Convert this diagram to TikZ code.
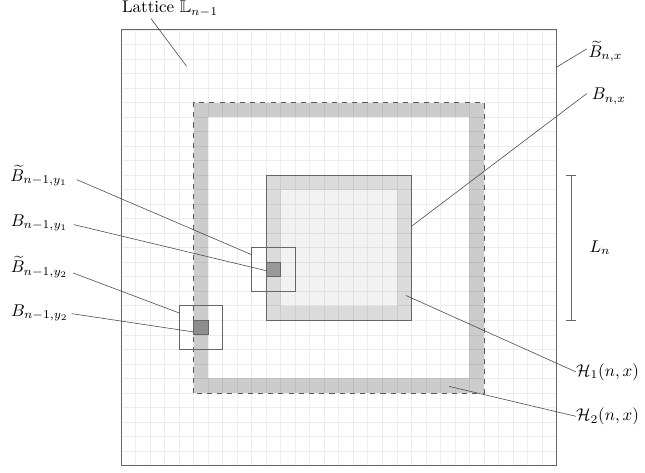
\documentclass[tikz,border=0pt]{standalone}
\usepackage{amsmath,amssymb}
\begin{document}
\begin{tikzpicture}[x=0.3cm,y=0.3cm,
  frame/.style={draw=black!60, line width=0.5pt},
  leader/.style={draw=black!70, line width=0.35pt},
  lbl/.style={inner sep=0pt, font=\normalsize}]
\useasboundingbox (-8.33,-0.45) rectangle (36.09,32.06);
% fills
\fill[black!20] (5,5) rectangle (25,25);
\fill[white] (6,6) rectangle (24,24);
\fill[black!14] (10,10) rectangle (20,20);
\fill[black!5] (11,11) rectangle (19,19);
% grid
\draw[black, opacity=0.07, line width=0.4pt, step=0.3cm] (0,0) grid (30,30);
% frames
\draw[frame] (0,0) rectangle (30,30);
\draw[draw=black!65, line width=0.5pt, dashed] (5,5) rectangle (25,25);
\draw[frame] (10,10) rectangle (20,20);
\draw[frame] (9,12) rectangle (12,15);
\draw[frame, fill=black, fill opacity=0.3] (10,13) rectangle (11,14);
\draw[frame] (4,8) rectangle (7,11);
\draw[frame, fill=black, fill opacity=0.3] (5,9) rectangle (6,10);
% L_n bracket
\coordinate (lnb) at (31,10);
\coordinate (lnt) at (31,20);
\draw[frame] (lnb) -- (lnt);
\draw[frame] ([xshift=-0.35*0.3cm]lnb) -- ([xshift=0.35*0.3cm]lnb);
\draw[frame] ([xshift=-0.35*0.3cm]lnt) -- ([xshift=0.35*0.3cm]lnt);
\node[lbl, anchor=west] (ln) at (32.25,15) {$L_n$};
% labels
\node[lbl, anchor=base west] (lat) at (0.05,31.2) {Lattice $\mathbb{L}_{n-1}$};
\node[lbl, anchor=base west] (btnx) at (32.18,28.11) {$\widetilde{B}_{n,x}$};
\node[lbl, anchor=base west] (bnx) at (32.41,25.2) {$B_{n,x}$};
\node[lbl, anchor=west] (h1) at (31.33,6.45) {$\mathcal{H}_1(n,x)$};
\node[lbl, anchor=west] (h2) at (31.33,3.39) {$\mathcal{H}_2(n,x)$};
\node[lbl, anchor=base east] (bt1) at (-3.65,19.57) {$\widetilde{B}_{n-1,y_1}$};
\node[lbl, anchor=base east] (b1) at (-3.63,16.47) {$B_{n-1,y_1}$};
\node[lbl, anchor=base east] (bt2) at (-3.63,13.26) {$\widetilde{B}_{n-1,y_2}$};
\node[lbl, anchor=base east] (b2) at (-3.6,10.28) {$B_{n-1,y_2}$};
% leader ends
\coordinate (lats) at (2.07,30.78);   \coordinate (late) at (4.52,27.49);
\coordinate (btnxs) at (32.07,28.69); \coordinate (btnxe) at (29.98,27.42);
\coordinate (bnxs) at (32.07,25.61);  \coordinate (bnxe) at (20.0,16.47);
\coordinate (h1e) at (19.63,11.71);
\coordinate (h2e) at (22.61,5.45);
\coordinate (bt1s) at (-3.05,19.69);  \coordinate (bt1e) at (9,14.52);
\coordinate (b1s) at (-3.24,16.59);   \coordinate (b1e) at (10,13.42);
\coordinate (bt2s) at (-3.29,13.26);  \coordinate (bt2e) at (4,10.51);
\coordinate (b2s) at (-3.4,10.46);    \coordinate (b2e) at (5,9.2);
\draw[leader] (lats) -- (late);
\draw[leader] (btnxs) -- (btnxe);
\draw[leader] (bnxs) -- (bnxe);
\draw[leader] (h1.west) -- (h1e);
\draw[leader] (h2.west) -- (h2e);
\draw[leader] (bt1s) -- (bt1e);
\draw[leader] (b1s) -- (b1e);
\draw[leader] (bt2s) -- (bt2e);
\draw[leader] (b2s) -- (b2e);
\end{tikzpicture}
\end{document}
